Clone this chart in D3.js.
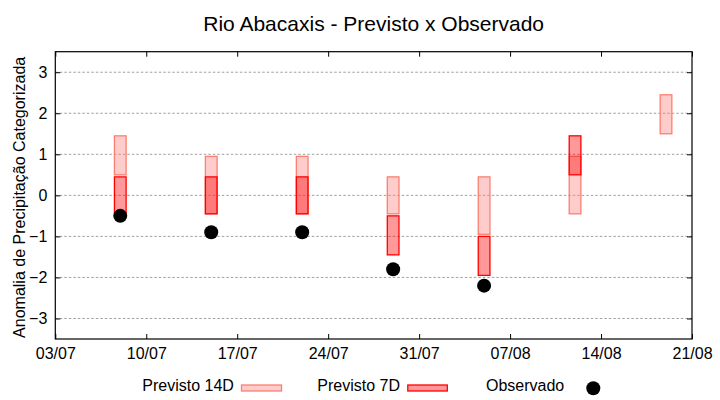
<!DOCTYPE html>
<html><head><meta charset="utf-8">
<script src="https://cdn.jsdelivr.net/npm/d3@7"></script>
<style>body{margin:0;background:#fff}svg{display:block;font-family:"Liberation Sans",Arial,sans-serif}</style>
</head><body><svg id="c" width="720" height="400"></svg>
<script>
const dates = ["2023-07-08","2023-07-15","2023-07-22","2023-07-29","2023-08-05","2023-08-12","2023-08-19"];
const p14Low  = [0.5, -0.45, -0.45, -0.45, -0.95, -0.45, 1.5];
const p14High = [1.45, 0.95, 0.95, 0.45, 0.45, 0.95, 2.45];
const p7Low   = [-0.45, -0.45, -0.45, -1.45, -1.95, 0.5, null];
const p7High  = [0.45, 0.45, 0.45, -0.5, -1.0, 1.45, null];
const observed = [-0.5, -0.9, -0.9, -1.8, -2.2, null, null];
const xTicks = ["2023-07-03","2023-07-10","2023-07-17","2023-07-24","2023-07-31","2023-08-07","2023-08-14","2023-08-21"];
const yTicks = [-3, -2, -1, 0, 1, 2, 3];
const title = "Rio Abacaxis - Previsto x Observado";
const yLabel = "Anomalia de Precipitação Categorizada";
const legendLabels = ["Previsto 14D", "Previsto 7D", "Observado"];

const parse = d3.utcParse("%Y-%m-%d");
const fmt = d3.utcFormat("%d/%m");
const svg = d3.select("#c");
const L = 55.3, R = 692, T = 51.7, B = 339;
const x = d3.scaleUtc().domain([parse(xTicks[0]), parse(xTicks[xTicks.length-1])]).range([L, R]);
const y = d3.scaleLinear().domain([-3.5, 3.5]).range([B, T]);
const day = 86400000;
const fill14 = "rgba(255,128,128,0.4)", stroke14 = "#fa8072";
const fill7 = "rgba(255,0,0,0.4)", stroke7 = "#ff0000";

// grid
svg.append("g").selectAll("line").data(yTicks).join("line")
  .attr("x1", L).attr("x2", R).attr("y1", d => y(d)).attr("y2", d => y(d))
  .attr("stroke", "#a0a0a0").attr("stroke-width", 1).attr("stroke-dasharray", "2.5,2");

// axes
const tl = 5;
const gL = svg.append("g").attr("transform", `translate(${L},0)`)
  .call(d3.axisLeft(y).tickValues(yTicks).tickSize(-tl).tickPadding(8).tickFormat(d3.format("d")));
const gR = svg.append("g").attr("transform", `translate(${R},0)`)
  .call(d3.axisRight(y).tickValues(yTicks).tickSize(-tl).tickFormat(""));
const gB = svg.append("g").attr("transform", `translate(0,${B})`)
  .call(d3.axisBottom(x).tickValues(xTicks.map(parse)).tickSize(-tl).tickPadding(9).tickFormat(fmt));
const gT = svg.append("g").attr("transform", `translate(0,${T})`)
  .call(d3.axisTop(x).tickValues(xTicks.map(parse)).tickSize(-tl).tickFormat(""));
[gL, gR, gB, gT].forEach(g => {
  g.select(".domain").remove();
  g.selectAll("line").attr("stroke", "#000");
  g.selectAll("text").attr("font-size", 16).attr("fill", "#000").attr("font-family", "Liberation Sans, Arial, sans-serif");
});
svg.append("rect").attr("x", L).attr("y", T).attr("width", R - L).attr("height", B - T)
  .attr("fill", "none").attr("stroke", "#000").attr("stroke-width", 1.2);

const hw = 0.45 * day;
const data = dates.map((d, i) => ({d: parse(d), l14: p14Low[i], h14: p14High[i], l7: p7Low[i], h7: p7High[i], o: observed[i]}));

svg.append("g").selectAll("rect").data(data.filter(d => d.l14 != null)).join("rect")
  .attr("x", d => x(new Date(+d.d - hw))).attr("width", d => x(new Date(+d.d + hw)) - x(new Date(+d.d - hw)))
  .attr("y", d => y(d.h14)).attr("height", d => y(d.l14) - y(d.h14))
  .attr("fill", fill14).attr("stroke", stroke14).attr("stroke-width", 1.3);

svg.append("g").selectAll("rect").data(data.filter(d => d.l7 != null)).join("rect")
  .attr("x", d => x(new Date(+d.d - hw))).attr("width", d => x(new Date(+d.d + hw)) - x(new Date(+d.d - hw)))
  .attr("y", d => y(d.h7)).attr("height", d => y(d.l7) - y(d.h7))
  .attr("fill", fill7).attr("stroke", stroke7).attr("stroke-width", 1.3);

svg.append("g").selectAll("circle").data(data.filter(d => d.o != null)).join("circle")
  .attr("cx", d => x(d.d)).attr("cy", d => y(d.o)).attr("r", 7).attr("fill", "#000");

// title
svg.append("text").attr("x", (L + R) / 2).attr("y", 31).attr("text-anchor", "middle")
  .attr("font-size", 21).attr("fill", "#000").text(title);
svg.append("text").attr("transform", `translate(25,${(T + B) / 2 + 2}) rotate(-90)`).attr("text-anchor", "middle")
  .attr("font-size", 16).attr("fill", "#000").text(yLabel);

// legend
const lg = svg.append("g");
const lx = [142.3, 317.3, 486];
const ly = 391;
lg.selectAll("text").data(legendLabels).join("text")
  .attr("x", (d, i) => lx[i]).attr("y", ly).attr("font-size", 16).attr("fill", "#000").text(d => d);
lg.append("rect").attr("x", 241.5).attr("y", 385).attr("width", 40).attr("height", 6)
  .attr("fill", fill14).attr("stroke", stroke14).attr("stroke-width", 1.3);
lg.append("rect").attr("x", 407.8).attr("y", 385).attr("width", 39.5).attr("height", 6)
  .attr("fill", fill7).attr("stroke", stroke7).attr("stroke-width", 1.3);
lg.append("circle").attr("cx", 593.3).attr("cy", 388.3).attr("r", 7).attr("fill", "#000");
</script></body></html>
